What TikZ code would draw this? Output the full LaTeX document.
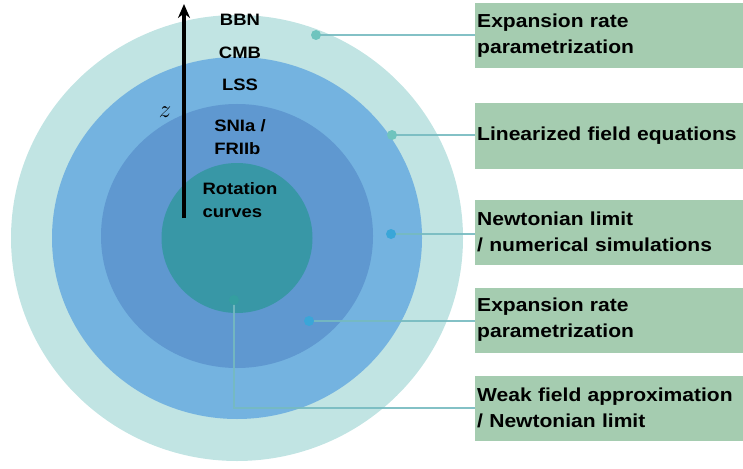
\documentclass[tikz,border=0pt]{standalone}
\usepackage{fontspec}
\setmainfont{Liberation Sans}[FakeStretch=1.12]
\usepackage{tikz}
\usetikzlibrary{arrows.meta,positioning,calc}

\definecolor{ringout}{RGB}{193,228,227}
\definecolor{ringmid}{RGB}{116,179,224}
\definecolor{ringin}{RGB}{95,152,208}
\definecolor{core}{RGB}{56,151,166}
\definecolor{boxgreen}{RGB}{165,204,176}
\definecolor{lineteal}{RGB}{118,186,192}
\definecolor{dotlight}{RGB}{111,196,190}
\definecolor{dotblue}{RGB}{58,166,216}
\definecolor{dotcore}{RGB}{52,158,160}

\newcommand{\probefont}{\fontsize{18.8}{26}\selectfont\bfseries}

\tikzset{
    probe/.style={fill=boxgreen,anchor=west,minimum width=272pt,minimum height=65pt,
        text width=268pt,inner xsep=2pt,align=left,font=\probefont},
    scale lbl/.style={font=\fontsize{16.5}{23.5}\selectfont\bfseries,align=left},
    link/.style={draw=lineteal,line width=2pt,opacity=0.9},
}

\begin{document}
\begin{tikzpicture}[x=1pt,y=-1pt]
    \useasboundingbox (0,0) rectangle (743,468);
    % nested scales
    \fill[ringout] (237,238) ellipse [x radius=226, y radius=223];
    \fill[ringmid] (237,238) ellipse [x radius=185, y radius=181];
    \fill[ringin]  (237,236) ellipse [x radius=136, y radius=132];
    \fill[core]    (237,238) ellipse [x radius=75.5, y radius=75];
    % redshift axis
    \coordinate (zlow) at (184,218);
    \coordinate (zhigh) at (184,4);
    \draw[line width=4pt,-{Stealth[length=14pt,width=12pt]}] (zlow) -- (zhigh);
    \node[font=\fontsize{42}{42}\selectfont] (zlbl) at (165,112) {$z$};
    \node[scale lbl] (bbn) at (240,20) {BBN};
    \node[scale lbl] (cmb) at (240,53) {CMB};
    \node[scale lbl] (lss) at (240,85) {LSS};
    \node[scale lbl] (snia) at (240,137) {SNIa /\\FRIIb};
    \node[scale lbl] (rot) at (240,200) {Rotation\\curves};
    % probes
    \node[probe] (box1) at (475,36) {Expansion rate\\parametrization};
    \node[probe] (box2) at (475,136) {Linearized field equations};
    \node[probe] (box3) at (475,232) {Newtonian limit\\/ numerical simulations};
    \node[probe] (box4) at (475,320) {Expansion rate\\parametrization};
    \node[probe] (box5) at (475,408) {Weak field approximation\\/ Newtonian limit};
    % markers
    \coordinate (m1) at (316,35);
    \coordinate (m2) at (392,135);
    \coordinate (m3) at (391,234);
    \coordinate (m4) at (309,321);
    \coordinate (m5) at (234,300);
    \draw[link] (m1) -- (m1 -| box1.west);
    \draw[link] (m2) -- (m2 -| box2.west);
    \draw[link] (m3) -- (m3 -| box3.west);
    \draw[link] (m4) -- (m4 -| box4.west);
    \draw[link] (m5) |- (box5.west);
    \fill[dotlight] (m1) circle (5);
    \fill[dotlight] (m2) circle (5);
    \fill[dotblue] (m3) circle (5);
    \fill[dotblue] (m4) circle (5);
    \fill[dotcore] (m5) circle (5);
\end{tikzpicture}
\end{document}
